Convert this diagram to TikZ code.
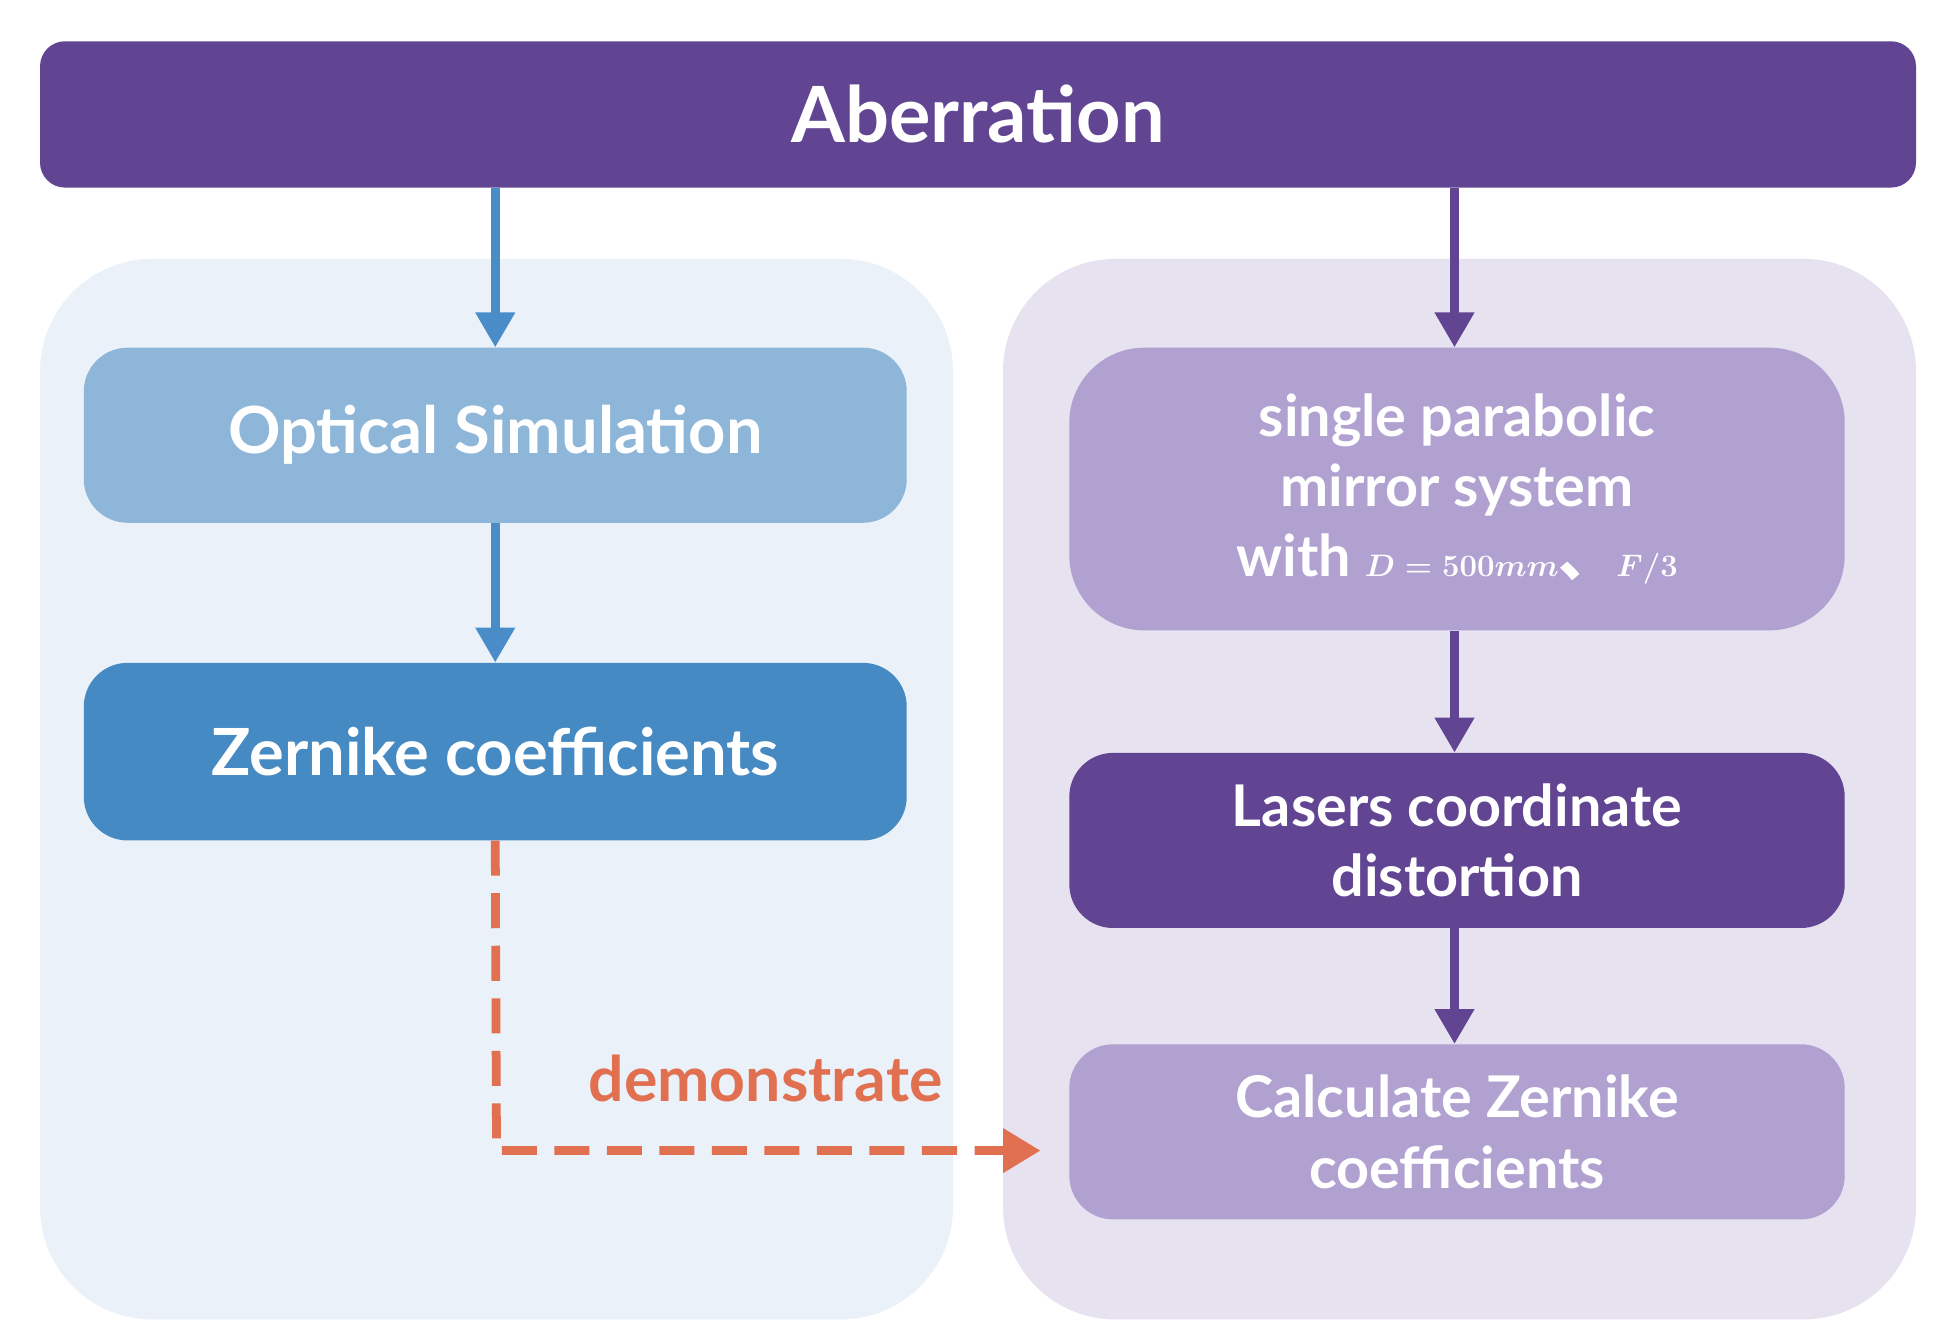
\documentclass[tikz,border=0pt]{standalone}
\usepackage{fontspec}
\setmainfont{Lato}
\newfontfamily\cjkfont{Noto Sans CJK SC}
\newcommand{\dun}{\mbox{\cjkfont 、}}
\usetikzlibrary{arrows.meta}
\definecolor{dpurple}{RGB}{97,69,147}
\definecolor{lpurple}{RGB}{176,161,209}
\definecolor{lblue}{RGB}{141,182,217}
\definecolor{dblue}{RGB}{70,138,195}
\definecolor{arrblue}{RGB}{74,140,200}
\definecolor{panL}{RGB}{234,241,248}
\definecolor{panR}{RGB}{230,226,240}
\definecolor{orng}{RGB}{224,112,80}
\begin{document}
\begin{tikzpicture}[x=1pt,y=-1pt,
  box/.style={rounded corners=35pt,text=white,font=\fontsize{52}{60}\bfseries\selectfont,align=center,inner sep=0pt},
  arr/.style={line width=7pt,-{Triangle[width=30pt,length=28pt]}}]
\useasboundingbox[fill=white] (0,0) rectangle (1560,1074);
\fill[panL,rounded corners=90pt] (32,207) rectangle (762,1055);
\fill[panR,rounded corners=90pt] (802,207) rectangle (1532,1055);
\node[box,fill=dpurple,rounded corners=20pt,minimum width=1500pt,minimum height=117pt,font=\fontsize{62}{70}\bfseries\selectfont] (ab) at (782,91.5) {Aberration};
\node[box,fill=lblue,minimum width=658pt,minimum height=140pt] (os) at (396,348) {Optical Simulation};
\node[box,fill=dblue,minimum width=658pt,minimum height=142pt] (zc) at (396,601) {Zernike coefficients};
\node[box,fill=lpurple,rounded corners=60pt,minimum width=620pt,minimum height=226pt,font=\fontsize{46}{56}\bfseries\boldmath\selectfont] (sp) at (1165,391) {single parabolic\\mirror system\\with $D=500mm$\dun$F/3$};
\node[box,fill=dpurple,minimum width=620pt,minimum height=140pt,font=\fontsize{46}{56}\bfseries\selectfont] (la) at (1165,672) {Lasers coordinate\\distortion};
\node[box,fill=lpurple,minimum width=620pt,minimum height=140pt,font=\fontsize{46}{56}\bfseries\selectfont] (ca) at (1165,905) {Calculate Zernike\\coefficients};
\coordinate (t1) at (1163,150);
\draw[arr,arrblue] (ab.south -| os.north) -- (os.north);
\draw[arr,arrblue] (os) -- (zc);
\draw[arr,dpurple] (t1) -- (t1 |- sp.north);
\draw[arr,dpurple] (t1 |- sp.south) -- (t1 |- la.north);
\draw[arr,dpurple] (t1 |- la.south) -- (t1 |- ca.north);
\coordinate (bend) at (397,920);
\coordinate (tip) at (832,920);
\draw[orng,line width=7pt,dash pattern=on 28pt off 14pt,-{Triangle[width=34pt,length=30pt]}] (zc.south) -- (bend) -- (tip);
\node[text=orng,font=\fontsize{50}{60}\bfseries\selectfont] (dm) at (612,862) {demonstrate};
\end{tikzpicture}
\end{document}
